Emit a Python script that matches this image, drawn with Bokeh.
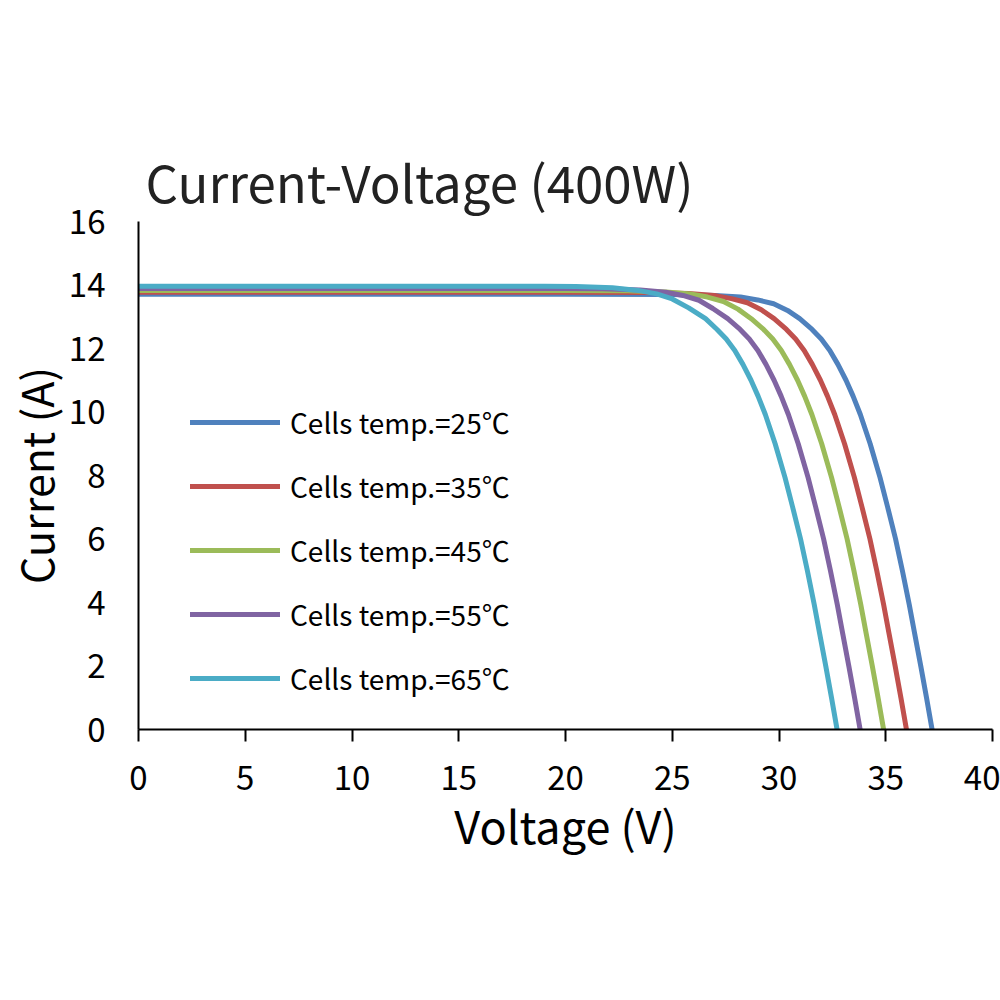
from bokeh.plotting import figure
from bokeh.models import Legend, LegendItem, Range1d, FixedTicker
from bokeh.embed import file_html
from bokeh.resources import INLINE

# ---- data ----
labels = ["Cells temp.=25℃", "Cells temp.=35℃", "Cells temp.=45℃",
          "Cells temp.=55℃", "Cells temp.=65℃"]
colors = ["#4F81BD", "#C0504D", "#9BBB59", "#8064A2", "#4BACC6"]

v_25 = [0, 10, 20, 25.0, 27.0, 28.2, 29.0, 29.75, 30.4, 30.97, 31.55, 31.98, 32.38, 32.76, 33.14,
        33.47, 33.81, 34.27, 34.73, 35.09, 35.46, 35.78, 36.10, 36.36, 36.64, 36.91, 37.17]
i_25 = [13.71, 13.71, 13.71, 13.70, 13.67, 13.62, 13.53, 13.41, 13.20, 12.94, 12.6, 12.3, 11.94, 11.5, 11.0,
        10.5, 9.92, 9.0, 7.94, 7.0, 6.0, 5.0, 3.94, 3.0, 2.0, 1.0, 0]

v_35 = [0, 10, 20, 23.97, 25.77, 26.97, 27.77, 28.52, 29.17, 29.77, 30.35, 30.78, 31.18, 31.56, 31.94,
        32.27, 32.61, 33.07, 33.53, 33.89, 34.26, 34.58, 34.90, 35.16, 35.44, 35.71, 35.97]
i_35 = [13.77, 13.77, 13.77, 13.76, 13.73, 13.67, 13.57, 13.44, 13.22, 12.94, 12.6, 12.3, 11.94, 11.5, 11.0,
        10.5, 9.92, 9.0, 7.94, 7.0, 6.0, 5.0, 3.94, 3.0, 2.0, 1.0, 0]

v_45 = [0, 10, 20, 22.9, 24.7, 25.85, 26.65, 27.4, 28.08, 28.7, 29.28, 29.71, 30.11, 30.49, 30.87,
        31.2, 31.54, 32.0, 32.46, 32.82, 33.19, 33.51, 33.83, 34.09, 34.37, 34.64, 34.9]
i_45 = [13.83, 13.83, 13.83, 13.82, 13.78, 13.72, 13.62, 13.48, 13.24, 12.94, 12.6, 12.3, 11.94, 11.5, 11.0,
        10.5, 9.92, 9.0, 7.94, 7.0, 6.0, 5.0, 3.94, 3.0, 2.0, 1.0, 0]

v_55 = [0, 10, 20, 21.7, 23.5, 24.7, 25.5, 26.25, 26.9, 27.6, 28.18, 28.61, 29.01, 29.39, 29.77,
        30.1, 30.44, 30.9, 31.36, 31.72, 32.09, 32.41, 32.73, 32.99, 33.27, 33.54, 33.8]
i_55 = [13.89, 13.89, 13.89, 13.88, 13.84, 13.77, 13.67, 13.52, 13.26, 12.94, 12.6, 12.3, 11.94, 11.5, 11.0,
        10.5, 9.92, 9.0, 7.94, 7.0, 6.0, 5.0, 3.94, 3.0, 2.0, 1.0, 0]

v_65 = [0, 10, 19.0, 20.5, 22.2, 23.4, 24.27, 25.0, 25.77, 26.56, 27.1, 27.53, 27.93, 28.31, 28.69,
        29.02, 29.36, 29.82, 30.28, 30.64, 31.01, 31.33, 31.65, 31.91, 32.19, 32.46, 32.72]
i_65 = [13.96, 13.96, 13.96, 13.95, 13.91, 13.83, 13.72, 13.56, 13.28, 12.94, 12.6, 12.3, 11.94, 11.5, 11.0,
        10.5, 9.92, 9.0, 7.94, 7.0, 6.0, 5.0, 3.94, 3.0, 2.0, 1.0, 0]

volts = [v_25, v_35, v_45, v_55, v_65]
amps = [i_25, i_35, i_45, i_55, i_65]

x_ticks = [0, 5, 10, 15, 20, 25, 30, 35, 40]
y_ticks = [0, 2, 4, 6, 8, 10, 12, 14, 16]

FONT = "Noto Sans CJK SC"

p = figure(width=1000, height=920, output_backend="svg", toolbar_location=None,
           x_range=Range1d(0, 40), y_range=Range1d(0, 16),
           min_border_left=138, min_border_right=8, min_border_top=221,
           min_border_bottom=191)
p.outline_line_color = None
p.grid.visible = False
p.background_fill_color = "white"
p.border_fill_color = "white"

p.title.text = "Current-Voltage  (400W)"
p.title.text_font = FONT
p.title.text_font_size = "51px"
p.title.text_font_style = "normal"
p.title.text_color = "#222222"
p.title.align = "left"
p.title.offset = 7
p.title.standoff = 7

# axes
p.xaxis.ticker = FixedTicker(ticks=x_ticks)
p.yaxis.ticker = FixedTicker(ticks=y_ticks)
for ax in (p.xaxis[0], p.yaxis[0]):
    ax.axis_line_color = "black"
    ax.axis_line_width = 2
    ax.minor_tick_line_color = None
    ax.major_label_text_font = FONT
    ax.major_label_text_font_size = "33px"
    ax.major_label_text_color = "black"
    ax.axis_label_text_font = FONT
    ax.axis_label_text_font_style = "normal"
    ax.axis_label_text_color = "black"

p.xaxis.axis_label = "Voltage (V)"
p.xaxis.axis_label_text_font_size = "45px"
p.xaxis.major_tick_line_color = "black"
p.xaxis.major_tick_line_width = 2
p.xaxis.major_tick_out = 12
p.xaxis.major_tick_in = 0
p.xaxis.major_label_standoff = 24
p.xaxis.axis_label_standoff = -1

p.yaxis.axis_label = "Current (A)"
p.yaxis.axis_label_text_font_size = "43px"
p.yaxis.major_tick_line_color = None
p.yaxis.major_tick_out = 0
p.yaxis.major_tick_in = 0
p.yaxis.major_label_standoff = 33
p.yaxis.axis_label_standoff = 0

items = []
for lab, col, vx, iy in zip(labels, colors, volts, amps):
    r = p.line(vx, iy, line_color=col, line_width=5, line_join="round", line_cap="round")
    items.append(LegendItem(label=lab, renderers=[r]))

legend = Legend(items=items, location=(52, 31), orientation="vertical",
                glyph_width=90, glyph_height=14, label_height=32, spacing=24,
                label_standoff=10, padding=0, margin=0,
                border_line_color=None, background_fill_alpha=0,
                label_text_font=FONT, label_text_font_size="28px",
                label_text_color="black")
p.add_layout(legend, "center")

open("out.html", "w").write(file_html(p, INLINE))
